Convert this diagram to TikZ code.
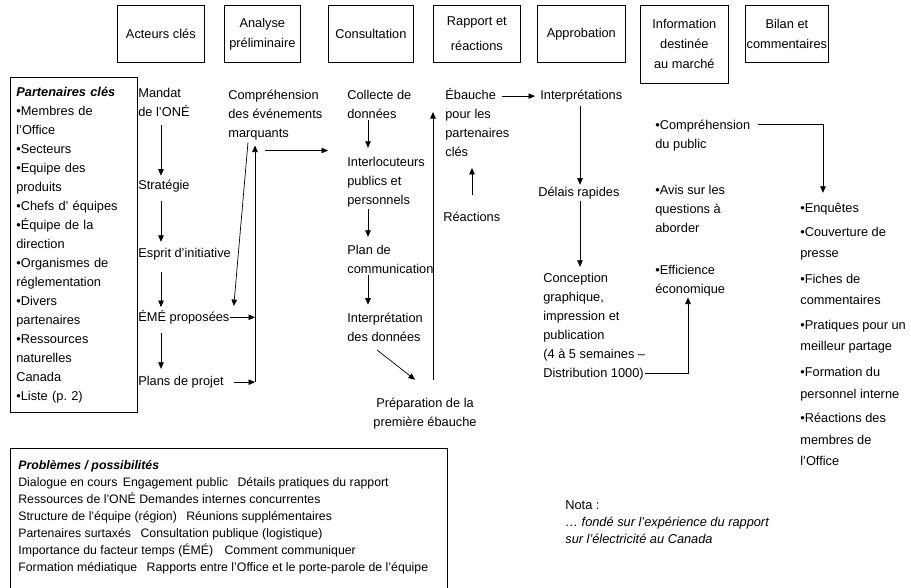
\documentclass[tikz,border=0pt]{standalone}
\usepackage{fontspec}
\setmainfont{Liberation Sans}
\frenchspacing
\usetikzlibrary{arrows.meta, calc}

\tikzset{
  hdr/.style={draw, anchor=north west, inner sep=0pt, minimum height=57pt, align=center, font=\fontsize{12.8}{20}\selectfont},
  txt/.style={anchor=base west, inner sep=0pt, align=left, yshift=-4.5pt, font=\fontsize{12.8}{19}\selectfont},
  bul/.style={txt, font=\fontsize{12.8}{21.5}\selectfont},
  note/.style={anchor=base west, inner sep=0pt, align=left, yshift=-4pt, font=\fontsize{12.3}{17}\selectfont},
  arr/.style={-{Triangle[length=6.5pt,width=5.5pt]}},
}

\begin{document}
\begin{tikzpicture}[x=1pt, y=-1pt, line width=0.7pt]
    \useasboundingbox (0,0) rectangle (911,588);

    % Stage headers
    \node[hdr, minimum width=87pt] (acteurs) at (117,5) {Acteurs clés};
    \node[hdr, minimum width=76pt] (analyse) at (224,5) {Analyse\\préliminaire};
    \node[hdr, minimum width=85pt] (consult) at (328,5) {Consultation};
    \node[hdr, minimum width=87pt] (rapport) at (433,5) {Rapport et\\[5pt]réactions};
    \node[hdr, minimum width=88pt] (approb) at (537,5) {Approbation};
    \node[hdr, minimum width=88pt, minimum height=78pt] (info) at (640,5) {Information\\destinée\\au marché};
    \node[hdr, minimum width=83pt] (bilan) at (745,5) {Bilan et\\commentaires};

    % Key partners
    \node[draw, anchor=north west, inner xsep=6pt, inner ysep=0pt, text width=115pt,
          minimum height=335pt, align=left, font=\fontsize{12.8}{19}\selectfont] (partners) at (10,77)
      {\textbf{\textit{Partenaires clés}}\\•Membres de\\l’Office\\•Secteurs\\•Equipe des\\produits\\
       •Chefs d’ équipes\\•Équipe de la\\direction\\•Organismes de\\réglementation\\•Divers\\
       partenaires\\•Ressources\\naturelles\\Canada\\•Liste (p. 2)};

    % Key players column (multi-line nodes sit on their last line)
    \node[txt] (mandat) at (138,112) {Mandat\\de l’ONÉ};
    \node[txt] (strat) at (138,185) {Stratégie};
    \node[txt] (esprit) at (138,253) {Esprit d’initiative};
    \node[txt] (emep) at (138,317) {ÉMÉ proposées};
    \node[txt] (plans) at (138,381) {Plans de projet};
    \coordinate (c1) at (161,0);
    \draw[arr, shorten <=8pt, shorten >=4pt] (mandat.south -| c1) -- (strat.north -| c1);
    \draw[arr, shorten <=8pt, shorten >=6pt] (strat.south -| c1) -- (esprit.north -| c1);
    \draw[arr, shorten <=11pt, shorten >=3pt] (esprit.south -| c1) -- (emep.north -| c1);
    \draw[arr, shorten <=8pt, shorten >=7pt] (emep.south -| c1) -- (plans.north -| c1);

    % Preliminary analysis
    \node[txt] (compr) at (228,133) {Compréhension\\des événements\\marquants};
    \coordinate (c2) at (255,0);
    \draw[arr] ($(compr.south west)+(20,2)$) -- ($(emep.north east)+(4,-4)$);
    \draw[arr] (emep.east) -- (emep.east -| c2);
    \draw[arr, shorten <=10pt] (plans.east) -- (plans.east -| c2);
    \draw[arr, shorten >=5pt] (plans.east -| c2) -- (compr.south -| c2);

    % Consultation
    \node[txt] (collecte) at (347,114) {Collecte de\\données};
    \node[txt] (interloc) at (347,200) {Interlocuteurs\\publics et\\personnels};
    \node[txt] (plancom) at (347,269) {Plan de\\communication};
    \node[txt] (interp) at (347,337) {Interprétation\\des données};
    \node[txt, align=center, anchor=base] (prep) at (425,422) {Préparation de la\\première ébauche};
    \coordinate (c3) at (368,0);
    \draw[arr] ($(compr.south -| c2)+(10,10)$) -- ($(compr.south -| collecte.west)+(-19,10)$);
    \draw[arr, shorten <=1.5pt, shorten >=9pt] (collecte.south -| c3) -- (interloc.north -| c3);
    \draw[arr, shorten <=1.5pt, shorten >=8pt] (interloc.south -| c3) -- (plancom.north -| c3);
    \draw[arr, shorten <=1.5pt, shorten >=8pt] (plancom.south -| c3) -- (interp.north -| c3);
    \draw[arr] ($(interp.south west)+(30,8)$) -- ($(prep.north)+(-10,-18)$);

    % Report and feedback
    \node[txt] (ebauche) at (445,152) {Ébauche\\pour les\\partenaires\\clés};
    \node[txt] (reactions) at (443,217) {Réactions};
    \coordinate (c4) at (433,0);
    \coordinate (c4b) at (472,0);
    \draw[arr, shorten <=18pt] (prep.north -| c4) -- ($(ebauche.north west)+(-12,24)$);
    \draw[arr, shorten <=17pt, shorten >=11pt] (reactions.north -| c4b) -- (ebauche.south -| c4b);

    % Approval
    \node[txt] (interpr) at (540,95) {Interprétations};
    \node[txt] (delais) at (538,192) {Délais rapides};
    \node[txt] (concep) at (543,373) {Conception\\graphique,\\impression et\\publication\\(4 à 5 semaines –\\Distribution 1000)};
    \coordinate (c5) at (580,0);
    \draw[arr, shorten <=57pt, shorten >=5pt] (ebauche.west |- interpr.west) -- (interpr.west);
    \draw[arr, shorten <=3pt, shorten >=2pt] (interpr.south -| c5) -- (delais.north -| c5);
    \draw[arr, shorten <=1pt, shorten >=6pt] (delais.south -| c5) -- (concep.north -| c5);

    % Market information
    \node[txt] (comppub) at (655,144) {•Compréhension\\du public};
    \node[txt] (avis) at (655,228) {•Avis sur les\\questions à\\aborder};
    \node[txt] (effic) at (655,289) {•Efficience\\économique};
    \coordinate (c6) at (688,0);
    \draw[arr, shorten >=1pt] ($(concep.south east)+(0,-7)$) -| (effic.south -| c6);

    % Review and comments
    \node[bul] (enq) at (800,208) {•Enquêtes};
    \node[bul] (couv) at (800,253.5) {•Couverture de\\presse};
    \node[bul] (fiches) at (800,300.5) {•Fiches de\\commentaires};
    \node[bul] (prat) at (800,346.5) {•Pratiques pour un\\meilleur partage};
    \node[bul] (form) at (800,393.5) {•Formation du\\personnel interne};
    \node[bul] (reacm) at (800,461) {•Réactions des\\membres de\\l’Office};
    \coordinate (c7) at (823,0);
    \draw[arr, shorten >=10pt] ($(comppub.north west)+(103,5)$) -| (enq.north -| c7);

    % Issues / opportunities
    \node[note] (probs) at (18,567)
      {\textbf{\textit{Problèmes / possibilités}}\\
       Dialogue en cours\hspace{2pt} Engagement public\hspace{6pt} Détails pratiques du rapport\\
       Ressources de l’ONÉ Demandes internes concurrentes\\
       Structure de l’équipe (région)\hspace{6pt} Réunions supplémentaires\\
       Partenaires surtaxés\hspace{6pt} Consultation publique (logistique)\\
       Importance du facteur temps (ÉMÉ)\hspace{8pt} Comment communiquer\\
       Formation médiatique\hspace{6pt} Rapports entre l’Office et le porte-parole de l’équipe};
    \draw (10,592) |- (447,448) -- (447,592);

    % Note
    \node[note, font=\fontsize{12.8}{17}\selectfont] (nota) at (565,539)
      {Nota :\\\textit{… fondé sur l’expérience du rapport}\\\textit{sur l’électricité au Canada}};
\end{tikzpicture}
\end{document}
